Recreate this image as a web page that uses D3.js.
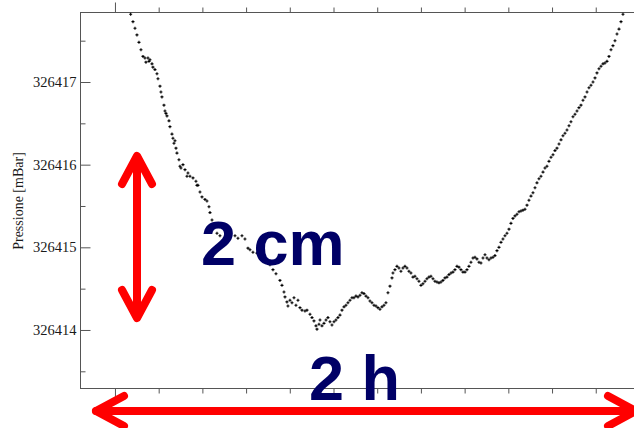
<!DOCTYPE html>
<html>
<head>
<meta charset="utf-8">
<script src="https://cdn.jsdelivr.net/npm/d3@7"></script>
<style>
  html, body { margin: 0; padding: 0; background: #fff; }
  svg { display: block; }
</style>
</head>
<body>
<svg id="chart" width="634" height="428"></svg>
<script>
// Barometer log: elapsed time in minutes and pressure in mBar
const minutes = [
  3.59, 4.12, 4.58, 5.03, 5.49, 5.95, 6.41, 6.86, 7.09, 7.55, 7.78, 8.01, 8.47, 8.69, 9.15, 9.61,
  9.84, 10.30, 10.52, 10.75, 11.21, 11.44, 11.67, 11.90, 12.36, 12.58, 13.04, 13.27, 13.50, 13.73,
  13.96, 14.18, 14.64, 14.87, 15.10, 15.56, 16.02, 16.47, 16.70, 17.16, 17.85, 18.53, 18.76, 18.99,
  19.45, 19.91, 20.59, 21.05, 21.51, 21.74, 22.20, 22.65, 23.34, 24.02, 25.17, 26.31, 27.46, 28.14,
  29.06, 29.74, 30.43, 30.89, 31.57, 32.49, 33.18, 33.86, 34.55, 35.46, 36.15, 36.84, 37.75, 38.21,
  38.67, 38.90, 39.35, 39.58, 40.04, 40.50, 40.96, 41.41, 41.87, 42.33, 42.79, 43.47, 43.93, 44.62,
  45.08, 45.53, 45.99, 46.22, 46.68, 46.91, 47.36, 47.82, 48.28, 48.73, 49.19, 49.65, 50.11, 50.56,
  51.02, 51.48, 51.94, 52.40, 52.85, 53.31, 53.77, 54.23, 54.68, 55.14, 55.60, 56.06, 56.51, 56.97,
  57.43, 57.89, 58.34, 58.80, 59.26, 59.72, 60.17, 60.63, 61.09, 61.55, 62.00, 62.46, 62.92, 63.38,
  63.60, 64.06, 64.52, 64.98, 65.43, 65.89, 66.35, 66.81, 67.26, 67.72, 68.18, 68.64, 69.10, 69.55,
  70.01, 70.47, 70.93, 71.38, 71.84, 72.30, 72.76, 73.21, 73.67, 74.13, 74.59, 75.04, 75.50, 75.96,
  76.42, 76.88, 77.33, 77.79, 78.25, 78.71, 79.16, 79.62, 80.08, 80.54, 80.99, 81.45, 81.91, 82.37,
  82.82, 83.28, 83.74, 84.20, 84.66, 85.11, 85.57, 86.03, 86.49, 86.94, 87.40, 87.86, 88.32, 88.77,
  89.23, 89.69, 90.15, 90.60, 91.06, 91.52, 91.98, 92.44, 92.89, 93.35, 93.81, 94.27, 94.72, 95.18,
  95.64, 96.10, 96.55, 97.01, 97.47, 97.93, 98.38, 98.84, 99.30, 99.76, 100.22, 100.67, 101.13,
  101.59, 102.05, 102.50, 102.96, 103.42, 103.88, 104.33, 104.79, 105.25, 105.71, 106.16, 106.62,
  107.08, 107.54, 108.00, 108.45, 108.91, 109.37, 109.83, 110.28, 110.74, 111.20, 111.66, 112.11,
  112.57, 113.03, 113.49, 113.94, 114.40, 114.86, 115.32, 115.78, 116.23
];
const pressure = [
  326417.82, 326417.73, 326417.65, 326417.57, 326417.48, 326417.39, 326417.31, 326417.29, 326417.24, 326417.29, 326417.25, 326417.27, 326417.22, 326417.18, 326417.15, 326417.10,
  326417.04, 326416.95, 326416.88, 326416.82, 326416.72, 326416.65, 326416.62, 326416.59, 326416.53, 326416.46, 326416.37, 326416.32, 326416.26, 326416.29,
  326416.20, 326416.14, 326416.06, 326415.98, 326415.96, 326416.00, 326415.94, 326415.86, 326415.90, 326415.86, 326415.84, 326415.80, 326415.75, 326415.75,
  326415.67, 326415.61, 326415.58, 326415.56, 326415.49, 326415.42, 326415.33, 326415.26, 326415.17, 326415.14, 326415.11, 326415.14, 326415.14, 326415.11,
  326415.14, 326415.10, 326414.99, 326414.97, 326414.94, 326414.93, 326414.91, 326414.87, 326414.85, 326414.79, 326414.73, 326414.68, 326414.60, 326414.54,
  326414.46, 326414.40, 326414.34, 326414.29, 326414.36, 326414.33, 326414.39, 326414.30, 326414.36, 326414.27, 326414.24, 326414.23, 326414.24, 326414.19,
  326414.15, 326414.11, 326414.05, 326414.01, 326414.07, 326414.12, 326414.05, 326414.08, 326414.12, 326414.15, 326414.10, 326414.06, 326414.10, 326414.12,
  326414.15, 326414.18, 326414.24, 326414.28, 326414.30, 326414.33, 326414.36, 326414.39, 326414.39, 326414.41, 326414.40, 326414.42, 326414.45, 326414.44,
  326414.41, 326414.39, 326414.35, 326414.33, 326414.30, 326414.29, 326414.27, 326414.25, 326414.28, 326414.30, 326414.33, 326414.45, 326414.53, 326414.63,
  326414.69, 326414.73, 326414.77, 326414.75, 326414.71, 326414.75, 326414.77, 326414.75, 326414.71, 326414.69, 326414.64, 326414.65, 326414.62, 326414.59,
  326414.54, 326414.56, 326414.59, 326414.62, 326414.64, 326414.65, 326414.62, 326414.59, 326414.58, 326414.57, 326414.58, 326414.60, 326414.63, 326414.64,
  326414.67, 326414.69, 326414.70, 326414.73, 326414.77, 326414.76, 326414.73, 326414.70, 326414.70, 326414.73, 326414.77, 326414.82, 326414.87, 326414.88,
  326414.86, 326414.82, 326414.81, 326414.87, 326414.91, 326414.87, 326414.85, 326414.87, 326414.88, 326414.90, 326414.96, 326415.00, 326415.06, 326415.10,
  326415.14, 326415.17, 326415.22, 326415.29, 326415.35, 326415.38, 326415.40, 326415.43, 326415.44, 326415.45, 326415.46, 326415.51, 326415.57, 326415.62,
  326415.66, 326415.72, 326415.78, 326415.83, 326415.86, 326415.91, 326415.96, 326415.98, 326416.04, 326416.09, 326416.12, 326416.17, 326416.20,
  326416.25, 326416.30, 326416.35, 326416.38, 326416.42, 326416.47, 326416.52, 326416.58, 326416.61, 326416.65, 326416.69, 326416.72,
  326416.78, 326416.82, 326416.88, 326416.93, 326416.96, 326417.00, 326417.05, 326417.11, 326417.16, 326417.19, 326417.22, 326417.23,
  326417.25, 326417.31, 326417.39, 326417.44, 326417.50, 326417.58, 326417.64, 326417.73, 326417.82
];

// Axis ticks
const pressureTicks = [326414, 326415, 326416, 326417];
const pressureMinorTicks = [326413.5, 326414.5, 326415.5, 326416.5, 326417.5];
const minuteTicks = [0, 120];
const minuteMinorTicks = [10, 20, 30, 40, 50, 60, 70, 80, 90, 100, 110];

// Annotations
const yTitle = "Pressione [mBar]";
const heightLabel = "2 cm";
const durationLabel = "2 h";

const svg = d3.select("#chart");

const plot = { left: 80, top: 12, bottom: 389, right: 660 };

const x = d3.scaleLinear().domain([-8, 124.7]).range([plot.left, plot.right]);
const y = d3.scaleLinear().domain([326413.286, 326417.847]).range([plot.bottom, plot.top]);

const frameColor = "#555";
const serif = "'Liberation Serif', 'Times New Roman', serif";

// Axes with inward-pointing ticks
function styleAxis(g) {
  g.select(".domain").remove();
  g.selectAll(".tick line").attr("stroke", frameColor).attr("stroke-width", 1);
}

svg.append("g")
  .attr("transform", `translate(${plot.left + 0.5},0)`)
  .call(d3.axisLeft(y).tickValues(pressureTicks).tickSize(-10).tickPadding(4).tickFormat(d3.format("d")))
  .call(styleAxis)
  .call(g => g.selectAll("text")
    .attr("font-family", serif)
    .attr("font-size", 14.5)
    .attr("fill", "#1a1a1a"));

svg.append("g")
  .attr("transform", `translate(${plot.left + 0.5},0)`)
  .call(d3.axisLeft(y).tickValues(pressureMinorTicks).tickSize(-5).tickFormat(""))
  .call(styleAxis);

[[d3.axisBottom, plot.top + 0.5], [d3.axisTop, plot.bottom - 0.5]].forEach(([axisFn, ty]) => {
  svg.append("g")
    .attr("transform", `translate(0,${ty})`)
    .call(axisFn(x).tickValues(minuteTicks).tickSize(-10).tickFormat(""))
    .call(styleAxis);
  svg.append("g")
    .attr("transform", `translate(0,${ty})`)
    .call(axisFn(x).tickValues(minuteMinorTicks).tickSize(-5).tickFormat(""))
    .call(styleAxis);
});

// Frame lines (top, bottom, left)
const frame = svg.append("g").attr("stroke", frameColor).attr("stroke-width", 1);
frame.append("line").attr("x1", plot.left).attr("x2", 634).attr("y1", plot.top + 0.5).attr("y2", plot.top + 0.5);
frame.append("line").attr("x1", plot.left).attr("x2", 634).attr("y1", plot.bottom - 0.5).attr("y2", plot.bottom - 0.5);
frame.append("line").attr("x1", plot.left + 0.5).attr("x2", plot.left + 0.5).attr("y1", plot.top).attr("y2", plot.bottom);

// Y axis title
svg.append("text")
  .attr("transform", "translate(23,201) rotate(-90)")
  .attr("text-anchor", "middle")
  .attr("font-family", serif)
  .attr("font-size", 14)
  .attr("fill", "#1a1a1a")
  .text(yTitle);

// Data markers: small plus signs
svg.append("defs").append("clipPath").attr("id", "plot-clip")
  .append("rect").attr("x", plot.left).attr("y", plot.top).attr("width", plot.right - plot.left).attr("height", plot.bottom - plot.top);

const points = minutes.map((m, i) => ({ m, p: pressure[i] }));
svg.append("g")
  .attr("clip-path", "url(#plot-clip)")
  .selectAll("path")
  .data(points)
  .join("path")
  .attr("transform", d => `translate(${x(d.m)},${y(d.p)})`)
  .attr("d", "M-1.5,0H1.5M0,-1.5V1.5")
  .attr("stroke", "#000")
  .attr("stroke-width", 1.1);

// Red double-headed arrows marking the scale
const red = "#ff0000";
const arrows = svg.append("g")
  .attr("stroke", red)
  .attr("stroke-width", 8)
  .attr("stroke-linecap", "round")
  .attr("stroke-linejoin", "round")
  .attr("fill", "none");

// vertical: 2 cm
arrows.append("line").attr("x1", 137).attr("x2", 137).attr("y1", 158).attr("y2", 315);
arrows.append("path").attr("d", "M122,184L137,156L152,184");
arrows.append("path").attr("d", "M122,290L137,318L152,290");

// horizontal: 2 h
arrows.append("line").attr("x1", 96).attr("x2", 634).attr("y1", 411).attr("y2", 411);
arrows.append("path").attr("d", "M124,396L96,411L124,426");
arrows.append("path").attr("d", "M608,396L636,411L608,426");

// Scale labels
const labelFont = "'Liberation Sans', Arial, sans-serif";
svg.append("text")
  .attr("x", 201).attr("y", 265)
  .attr("font-family", labelFont).attr("font-weight", "bold").attr("font-size", 63)
  .attr("fill", "#000066")
  .text(heightLabel);

svg.append("text")
  .attr("x", 309).attr("y", 400)
  .attr("font-family", labelFont).attr("font-weight", "bold").attr("font-size", 63)
  .attr("fill", "#000066")
  .text(durationLabel);
</script>
</body>
</html>
